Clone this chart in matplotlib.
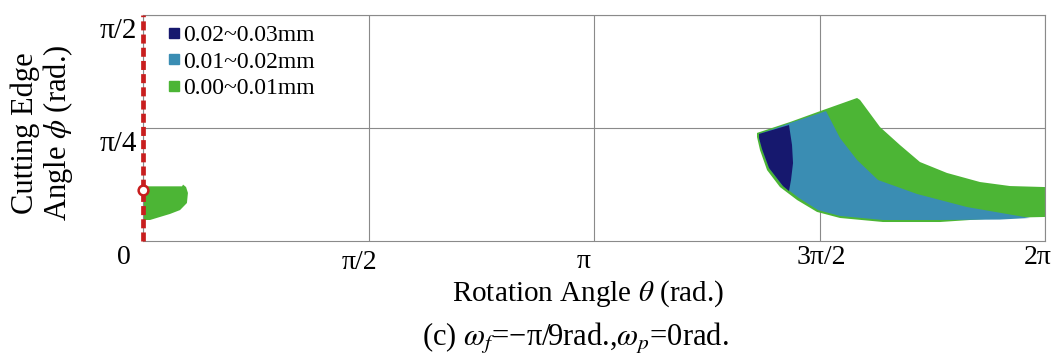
import numpy as np
import matplotlib
matplotlib.use("Agg")
import matplotlib.pyplot as plt
from matplotlib.lines import Line2D
from matplotlib.transforms import ScaledTranslation

plt.rcParams["font.family"] = ["Liberation Serif", "DejaVu Serif"]
plt.rcParams["mathtext.fontset"] = "stix"
plt.rcParams["lines.scale_dashes"] = False

PI = np.pi

# Region boundaries (theta, phi) in radians
small_theta = [0.000, 0.272, 0.279, 0.300, 0.313, 0.306, 0.258, 0.188, 0.118, 0.049, 0.000]
small_phi = [0.380, 0.380, 0.392, 0.375, 0.334, 0.264, 0.215, 0.188, 0.167, 0.146, 0.146]

outer_theta = [4.277, 4.507, 4.737, 4.974, 4.995, 5.134, 5.273, 5.412, 5.600, 5.830, 6.039, 6.283,
               6.283, 5.970, 5.552, 5.155, 4.855, 4.695, 4.556, 4.437, 4.347, 4.298, 4.277]
outer_phi = [0.751, 0.827, 0.910, 0.994, 0.980, 0.792, 0.667, 0.549, 0.473, 0.410, 0.382, 0.375,
             0.167, 0.160, 0.132, 0.132, 0.160, 0.202, 0.285, 0.375, 0.493, 0.632, 0.723]

mid_theta = [4.291, 4.507, 4.758, 4.855, 4.974, 5.120, 5.391, 5.740, 6.179,
             5.970, 5.552, 5.155, 4.855, 4.702, 4.569, 4.451, 4.361, 4.312, 4.291]
mid_phi = [0.744, 0.820, 0.903, 0.716, 0.563, 0.424, 0.327, 0.236, 0.160,
           0.149, 0.146, 0.146, 0.174, 0.215, 0.299, 0.389, 0.507, 0.639, 0.716]

deep_theta = [4.291, 4.500, 4.521, 4.528, 4.514, 4.500, 4.458, 4.361, 4.312, 4.291]
deep_phi = [0.744, 0.806, 0.667, 0.542, 0.424, 0.347, 0.382, 0.507, 0.639, 0.716]

start_point = (0.0, 0.357)

legend_labels = ["0.02~0.03mm", "0.01~0.02mm", "0.00~0.01mm"]
x_tick_vals = [0, PI / 2, PI, 3 * PI / 2, 2 * PI]
x_tick_labels = ["0", "π/2", "π", "3π/2", "2π"]
y_tick_vals = [PI / 4, PI / 2]
y_tick_labels = ["π/4", "π/2"]

c_deep = "#16186e"
c_mid = "#3a8db3"
c_low = "#4cb535"

fig = plt.figure(figsize=(10.63, 3.56), dpi=100)
ax = fig.add_axes([143 / 1063, 1 - 241 / 356, 902 / 1063, 226 / 356])
ax.set_xlim(0, 2 * PI)
ax.set_ylim(0, PI / 2)

ax.fill(small_theta, small_phi, color=c_low, lw=0, zorder=2)
ax.fill(outer_theta, outer_phi, color=c_low, lw=0, zorder=2)
ax.fill(mid_theta, mid_phi, color=c_mid, lw=0, zorder=3)
ax.fill(deep_theta, deep_phi, color=c_deep, lw=0, zorder=4)

ax.axvline(0, color="#c81e1e", lw=3.4, dashes=(6.5, 3.0), zorder=6, clip_on=False)
ax.plot(*start_point, marker="o", ms=7, mfc="white", mec="#c81e1e", mew=1.8,
        zorder=7, clip_on=False)

ax.set_xticks(x_tick_vals)
ax.set_xticklabels(x_tick_labels, fontsize=20)
ax.set_yticks(y_tick_vals)
ax.set_yticklabels(y_tick_labels, fontsize=21)
ax.tick_params(axis="x", length=0, pad=3)
ax.tick_params(axis="y", length=0, pad=4)

# small per-label nudges (pixels) for the axis numbering
px = 72 / 100
x_shift = [(-19, 0), (-9, -5), (-10, -4), (2, 0), (-7, 0)]
for lab, (dx, dy) in zip(ax.get_xticklabels(), x_shift):
    lab.set_transform(lab.get_transform()
                      + ScaledTranslation(dx * px / 72, dy * px / 72, fig.dpi_scale_trans))
for lab in ax.get_yticklabels():
    lab.set_transform(lab.get_transform()
                      + ScaledTranslation(0, -13 * px / 72, fig.dpi_scale_trans))

ax.grid(True, color="#8a8a8a", lw=0.8)
ax.set_axisbelow(True)
for s in ax.spines.values():
    s.set_color("#8a8a8a")
    s.set_linewidth(0.8)

ax.set_xlabel("Rotation Angle $\\theta$ (rad.)", fontsize=21)
ax.xaxis.set_label_coords((588 - 143) / 902, (241 - 294) / 226)
ax.xaxis.label.set_va("center")
ax.set_ylabel("Cutting Edge\nAngle $\\phi$ (rad.)", fontsize=22, linespacing=1.05)
ax.yaxis.set_label_coords((43 - 143) / 902, (241 - 133) / 226)
ax.yaxis.label.set_va("center")

handles = [Line2D([], [], ls="none", marker="s", ms=6.5, color=c) for c in (c_deep, c_mid, c_low)]
ax.legend(handles, legend_labels, loc="upper left", bbox_to_anchor=(0.01, 1.03),
          frameon=False, fontsize=17, handlelength=0.5, handletextpad=0.1,
          labelspacing=0.2, borderpad=0.2)

fig.text(575 / 1063, 1 - 338 / 356, "(c) $\\omega_f$=−π/9rad.,$\\omega_p$=0rad.",
         fontsize=22, ha="center", va="center")

fig.savefig("out.png", dpi=100, facecolor="white")
